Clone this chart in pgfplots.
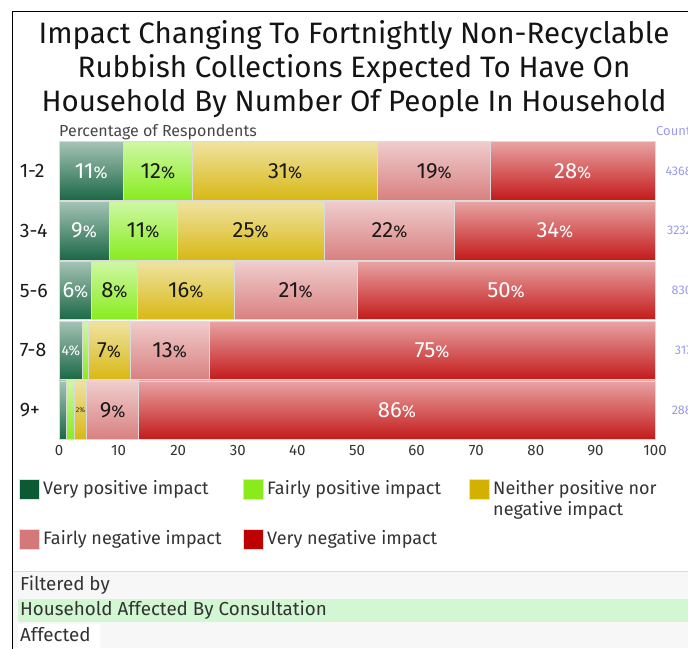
\documentclass[border=0pt]{standalone}
\usepackage{pgfplots}
\usepackage{pgfplotstable}
\pgfplotsset{compat=1.18}
\usepackage{fontspec}
\setmainfont{Fira Sans}

\definecolor{cA}{HTML}{1B6846}
\definecolor{cB}{HTML}{88EC1E}
\definecolor{cC}{HTML}{D8B814}
\definecolor{cD}{HTML}{D98080}
\definecolor{cE}{HTML}{C41A1A}
\definecolor{lA}{HTML}{0B5A34}
\definecolor{lB}{HTML}{8BEA1C}
\definecolor{lC}{HTML}{D4B000}
\definecolor{lD}{HTML}{D47878}
\definecolor{lE}{HTML}{BD0000}
\definecolor{txt}{HTML}{333333}
\definecolor{cnt}{HTML}{9A9AF0}
\definecolor{panel}{HTML}{F7F7F7}
\definecolor{band}{HTML}{D2F7D2}

\pgfplotstableread{
x y l
5.4 0 11
86.2 0 28
4.2 1 9
83.2 1 34
2.75 2 6
75.0 2 50
62.6 3 75
56.7 4 86
}\labwhite

\pgfplotstableread{
x y l
16.6 0 12
37.95 0 31
62.95 0 19
14.1 1 11
32.15 1 25
55.45 1 22
9.3 2 8
21.25 2 16
39.7 2 21
8.4 3 7
18.55 3 13
9.0 4 9
}\labblack

\pgfplotstableread{
x y l
106.2 0 4368
106.2 1 3232
106.2 2 830
106.2 3 317
106.2 4 288
}\counts

\tikzset{
  barstyle/.style={top color=#1!40!white, middle color=#1, bottom color=#1, draw=black!14, line width=0.8pt},
}

% one axis per row, so that every bar gets its own top-to-bottom gradient
% #1 row index, #2..#6: very positive, fairly positive, neither, fairly negative, very negative (%)
\newcommand{\rowbars}[6]{%
\begin{axis}[
  at={(59pt,{-141pt-59.8pt*#1})}, anchor=north west,
  scale only axis, width=596pt, height=59.8pt,
  xbar stacked, bar width=58.4pt,
  xmin=0, xmax=100, ymin=#1-0.5, ymax=#1+0.5, y dir=reverse,
  hide axis, clip=false,
]
\addplot[barstyle=cA] coordinates {(#2,#1)};
\addplot[barstyle=cB] coordinates {(#3,#1)};
\addplot[barstyle=cC] coordinates {(#4,#1)};
\addplot[barstyle=cD] coordinates {(#5,#1)};
\addplot[barstyle=cE] coordinates {(#6,#1)};
\end{axis}}

\newcommand{\pct}{{\fontsize{17}{17}\selectfont\%}}

\begin{document}
\begin{tikzpicture}[x=1pt,y=1pt]
\path[use as bounding box] (0,0) rectangle (688,-648);
\clip (0,0) rectangle (688,-648);
\fill[white] (0,0) rectangle (688,-648);

% filter panel
\fill[panel] (13,-571) rectangle (688,-648);
\draw[black!15, line width=1pt] (13,-571) -- (688,-571);
\fill[band] (18,-599) rectangle (688,-622);
\fill[white] (18,-624) rectangle (100,-648);
\node[anchor=west, inner sep=0pt, text=txt, font=\fontsize{18.8}{18}\selectfont] at (20,-585) {Filtered by};
\node[anchor=west, inner sep=0pt, text=txt, font=\fontsize{18.8}{18}\selectfont] at (20,-610) {Household Affected By Consultation};
\node[anchor=west, inner sep=0pt, text=txt, font=\fontsize{18.8}{18}\selectfont] at (20,-635) {Affected};

% frame
\draw[black, line width=1.6pt] (12.5,-650) -- (12.5,-11.5) -- (700,-11.5);

% title
\node[align=center, inner sep=0pt, font=\fontsize{29.5}{34}\selectfont, text=black!92] at (354,-69) {Impact Changing To Fortnightly Non-Recyclable\\Rubbish Collections Expected To Have On\\Household By Number Of People In Household};

\node[anchor=base west, inner sep=0pt, text=txt!90, font=\fontsize{16}{16}\selectfont] at (59,-136) {Percentage of Respondents};
\node[anchor=base west, inner sep=0pt, text=cnt, font=\fontsize{13}{13}\selectfont] at (656,-135) {Count};

\rowbars{0}{10.8}{11.6}{31.1}{18.9}{27.6}
\rowbars{1}{8.4}{11.4}{24.7}{21.9}{33.6}
\rowbars{2}{5.5}{7.6}{16.3}{20.6}{50.0}
\rowbars{3}{4.0}{0.9}{7.0}{13.3}{74.8}
\rowbars{4}{1.2}{1.4}{2.0}{8.8}{86.6}

\begin{axis}[
  at={(59pt,-440pt)}, anchor=south west,
  scale only axis, width=596pt, height=299pt,
  xmin=0, xmax=100, ymin=-0.5, ymax=4.5, y dir=reverse,
  ytick={0,1,2,3,4}, yticklabels={1-2,3-4,5-6,7-8,9+},
  xtick={0,10,...,100},
  axis line style={draw=none}, major tick length=0pt,
  yticklabel style={anchor=east, inner sep=0pt, text width=33pt, align=left, xshift=-6pt, font=\fontsize{19.5}{19.5}\selectfont, text=black!90},
  xticklabel style={inner sep=0pt, yshift=-5pt, font=\fontsize{15}{15}\selectfont, text=txt},
  /pgf/number format/assume math mode=true,
  clip=false,
]
\addplot[only marks, mark=none, nodes near coords={\pgfplotspointmeta\pct}, point meta=explicit symbolic,
  every node near coord/.style={anchor=center, inner sep=0pt, text=white, font=\fontsize{22}{22}\selectfont}]
  table[x=x,y=y,meta=l]{\labwhite};
\addplot[only marks, mark=none, nodes near coords={\pgfplotspointmeta\pct}, point meta=explicit symbolic,
  every node near coord/.style={anchor=center, inner sep=0pt, text=black!90, font=\fontsize{22}{22}\selectfont}]
  table[x=x,y=y,meta=l]{\labblack};
\addplot[only marks, mark=none, nodes near coords={\pgfplotspointmeta\%}, point meta=explicit symbolic,
  every node near coord/.style={anchor=center, inner sep=0pt, text=white, font=\fontsize{14}{14}\selectfont}]
  table[x=x,y=y,meta=l]{
x y l
2.0 3 4
};
\addplot[only marks, mark=none, nodes near coords={\pgfplotspointmeta\%}, point meta=explicit symbolic,
  every node near coord/.style={anchor=center, inner sep=0pt, text=black!85, font=\fontsize{7}{7}\selectfont}]
  table[x=x,y=y,meta=l]{
x y l
3.6 4 2
};
\addplot[only marks, mark=none, nodes near coords, point meta=explicit symbolic,
  every node near coord/.style={anchor=east, inner sep=0pt, text=cnt, font=\fontsize{12.5}{12.5}\selectfont}]
  table[x=x,y=y,meta=l]{\counts};
\end{axis}

% legend
\tikzset{lsq/.style={fill=#1, draw=black!12, line width=0.6pt}}
\def\lfont{\fontsize{18}{21.5}\selectfont}
\draw[lsq=lA] (19,-479) rectangle (39,-499);
\node[anchor=west, inner sep=0pt, text=txt, font=\lfont] at (43,-489.5) {Very positive impact};
\draw[lsq=lB] (243,-479) rectangle (263,-499);
\node[anchor=west, inner sep=0pt, text=txt, font=\lfont] at (267,-489.5) {Fairly positive impact};
\draw[lsq=lC] (469,-479) rectangle (489,-499);
\node[anchor=north west, inner sep=0pt, text=txt, font=\lfont, align=left] at (493,-480) {Neither positive nor\\negative impact};
\draw[lsq=lD] (19,-529) rectangle (39,-549);
\node[anchor=west, inner sep=0pt, text=txt, font=\lfont] at (43,-539.5) {Fairly negative impact};
\draw[lsq=lE] (243,-529) rectangle (263,-549);
\node[anchor=west, inner sep=0pt, text=txt, font=\lfont] at (267,-539.5) {Very negative impact};
\end{tikzpicture}
\end{document}
